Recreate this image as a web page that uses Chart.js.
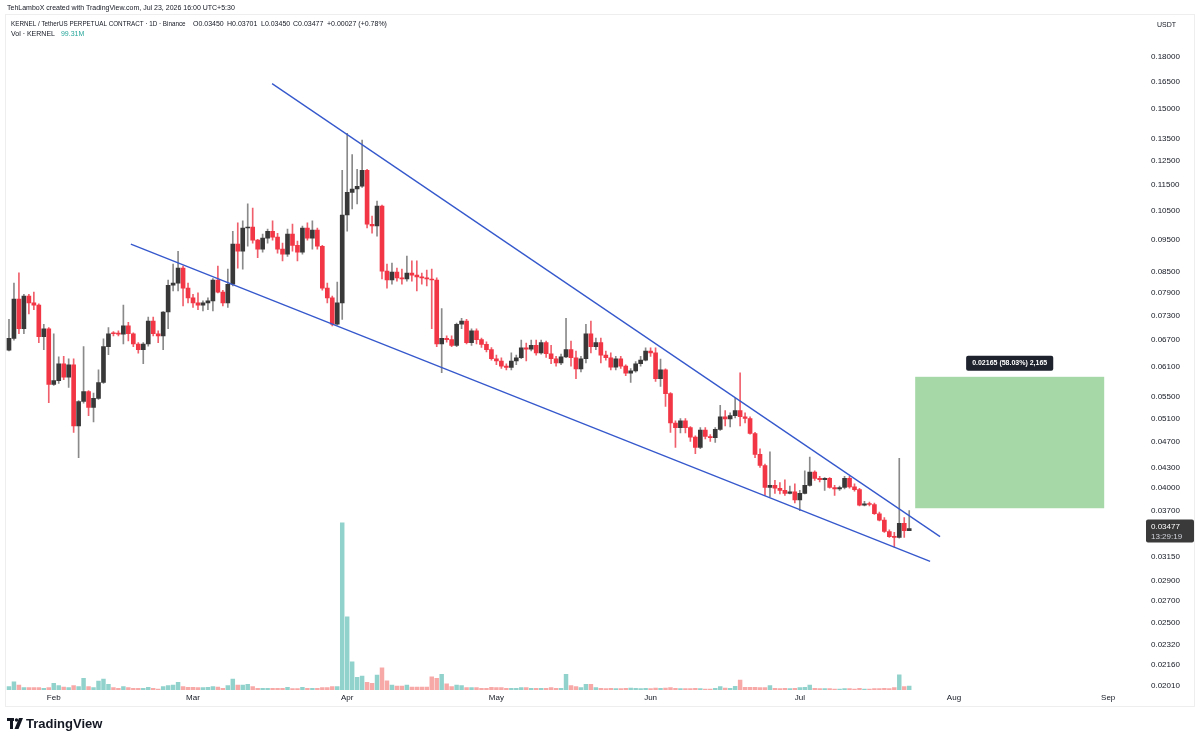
<!DOCTYPE html>
<html>
<head>
<meta charset="utf-8">
<script src="https://cdn.jsdelivr.net/npm/chart.js@4.4.1/dist/chart.umd.min.js"></script>
<style>
  html, body { margin: 0; padding: 0; background: #fff; }
  #wrap { width: 1200px; height: 742px; position: relative; }
</style>
</head>
<body>
<div id="wrap"><canvas id="myChart" width="1200" height="742"></canvas></div>
<script>
// daily candles, Jan 23 -> Jul 23 (index 0 = Jan 23)
const opens = [
  0.0647,0.0674,0.0773,0.0697,0.0781,0.0763,0.0757,0.0678,0.0697,0.0574,
  0.0582,0.0617,0.0589,0.0615,0.0497,0.0541,0.0560,0.0530,0.0547,0.0578,
  0.0655,0.0687,0.0686,0.0684,0.0704,0.0685,0.0661,0.0648,0.0661,0.0716,
  0.0685,0.0680,0.0739,0.0811,0.0817,0.0861,0.0803,0.0776,0.0763,0.0757,
  0.0763,0.0768,0.0826,0.0792,0.0763,0.0814,0.0936,0.0913,0.0990,0.0993,
  0.0949,0.0920,0.0956,0.0979,0.0959,0.0920,0.0904,0.0969,0.0932,0.0910,
  0.0990,0.0956,0.0983,0.0929,0.0803,0.0776,0.0708,0.0763,0.1036,0.1121,
  0.1134,0.1145,0.1210,0.1003,0.0997,0.1069,0.0852,0.0826,0.0849,0.0832,
  0.0829,0.0846,0.0840,0.0835,0.0832,0.0829,0.0826,0.0661,0.0674,0.0671,
  0.0658,0.0708,0.0716,0.0664,0.0692,0.0671,0.0660,0.0648,0.0628,0.0623,
  0.0612,0.0609,0.0623,0.0630,0.0652,0.0649,0.0658,0.0641,0.0664,0.0639,
  0.0628,0.0619,0.0632,0.0648,0.0630,0.0606,0.0628,0.0685,0.0655,0.0664,
  0.0636,0.0630,0.0610,0.0628,0.0612,0.0597,0.0602,0.0617,0.0625,0.0645,
  0.0641,0.0586,0.0604,0.0556,0.0502,0.0494,0.0506,0.0494,0.0478,0.0461,
  0.0490,0.0479,0.0477,0.0491,0.0513,0.0509,0.0515,0.0524,0.0513,0.0510,
  0.0484,0.0450,0.0433,0.0401,0.0404,0.0400,0.0397,0.0393,0.0395,0.0384,
  0.0393,0.0404,0.0423,0.0414,0.0412,0.0414,0.0401,0.0399,0.0401,0.0414,
  0.0402,0.0398,0.0377,0.0379,0.0378,0.0366,0.0358,0.0344,0.0338,0.0337,
  0.0354,0.03450
];
const highs = [
  0.0720,0.0817,0.0847,0.0786,0.0786,0.0792,0.0760,0.0708,0.0700,0.0685,
  0.0632,0.0633,0.0628,0.0628,0.0543,0.0655,0.0562,0.0557,0.0604,0.0673,
  0.0700,0.0690,0.0692,0.0757,0.0713,0.0687,0.0664,0.0664,0.0726,0.0726,
  0.0692,0.0740,0.0826,0.0873,0.0913,0.0867,0.0817,0.0786,0.0790,0.0768,
  0.0776,0.0830,0.0867,0.0797,0.0858,0.0979,0.1008,0.1015,0.1077,0.1061,
  0.0952,0.0969,0.0986,0.1015,0.0972,0.0939,0.0986,0.1004,0.0946,0.0997,
  0.1008,0.1015,0.0990,0.0932,0.0817,0.0781,0.0820,0.1210,0.1377,0.1279,
  0.1214,0.1345,0.1214,0.1032,0.1087,0.1072,0.0873,0.0876,0.0861,0.0858,
  0.0898,0.0883,0.0883,0.0846,0.0855,0.0858,0.0832,0.0748,0.0680,0.0680,
  0.0711,0.0723,0.0720,0.0697,0.0697,0.0675,0.0666,0.0653,0.0636,0.0630,
  0.0617,0.0641,0.0636,0.0670,0.0663,0.0670,0.0670,0.0670,0.0668,0.0658,
  0.0633,0.0638,0.0723,0.0668,0.0645,0.0633,0.0708,0.0716,0.0675,0.0675,
  0.0645,0.0641,0.0633,0.0633,0.0615,0.0607,0.0622,0.0633,0.0652,0.0652,
  0.0652,0.0627,0.0606,0.0558,0.0506,0.0510,0.0510,0.0496,0.0480,0.0494,
  0.0494,0.0482,0.0494,0.0534,0.0524,0.0520,0.0547,0.0598,0.0520,0.0513,
  0.0486,0.0459,0.0435,0.0454,0.0411,0.0408,0.0412,0.0403,0.0406,0.0397,
  0.0425,0.0446,0.0425,0.0417,0.0415,0.0415,0.0404,0.0403,0.0417,0.0417,
  0.0406,0.0400,0.0382,0.0381,0.0380,0.0368,0.0361,0.0346,0.0343,0.0444,
  0.0361,0.03701
];
const lows = [
  0.0645,0.0670,0.0685,0.0685,0.0734,0.0745,0.0664,0.0648,0.0539,0.0572,
  0.0576,0.0584,0.0568,0.0486,0.0445,0.0538,0.0515,0.0504,0.0545,0.0576,
  0.0637,0.0680,0.0680,0.0661,0.0668,0.0655,0.0640,0.0617,0.0656,0.0680,
  0.0664,0.0648,0.0697,0.0795,0.0795,0.0755,0.0763,0.0751,0.0745,0.0742,
  0.0745,0.0742,0.0790,0.0755,0.0751,0.0809,0.0861,0.0858,0.0929,0.0939,
  0.0893,0.0910,0.0939,0.0949,0.0907,0.0883,0.0897,0.0913,0.0883,0.0904,
  0.0949,0.0920,0.0920,0.0797,0.0763,0.0704,0.0706,0.0720,0.0979,0.1058,
  0.1077,0.1140,0.0990,0.0972,0.0962,0.0829,0.0803,0.0814,0.0823,0.0814,
  0.0823,0.0823,0.0795,0.0814,0.0809,0.0697,0.0655,0.0598,0.0665,0.0655,
  0.0655,0.0697,0.0661,0.0658,0.0661,0.0653,0.0643,0.0625,0.0615,0.0607,
  0.0604,0.0604,0.0615,0.0628,0.0623,0.0645,0.0636,0.0638,0.0631,0.0617,
  0.0612,0.0615,0.0630,0.0612,0.0586,0.0600,0.0619,0.0641,0.0648,0.0619,
  0.0625,0.0604,0.0604,0.0607,0.0592,0.0578,0.0599,0.0612,0.0623,0.0633,
  0.0580,0.0570,0.0532,0.0486,0.0461,0.0485,0.0485,0.0471,0.0451,0.0459,
  0.0475,0.0471,0.0469,0.0489,0.0497,0.0495,0.0511,0.0497,0.0502,0.0483,
  0.0445,0.0430,0.0390,0.0388,0.0393,0.0392,0.0390,0.0392,0.0380,0.0370,
  0.0392,0.0403,0.0411,0.0409,0.0397,0.0400,0.0390,0.0397,0.0399,0.0400,
  0.0396,0.0376,0.0376,0.0376,0.0365,0.0357,0.0343,0.0337,0.0326,0.0336,
  0.0337,0.03450
];
const closes = [
  0.0674,0.0773,0.0697,0.0781,0.0763,0.0757,0.0678,0.0697,0.0574,0.0582,
  0.0617,0.0589,0.0615,0.0497,0.0541,0.0560,0.0530,0.0547,0.0578,0.0655,
  0.0685,0.0685,0.0684,0.0704,0.0685,0.0661,0.0648,0.0661,0.0716,0.0685,
  0.0680,0.0739,0.0811,0.0817,0.0861,0.0803,0.0776,0.0763,0.0757,0.0763,
  0.0768,0.0826,0.0792,0.0763,0.0814,0.0936,0.0913,0.0990,0.0993,0.0949,
  0.0920,0.0956,0.0979,0.0959,0.0920,0.0904,0.0969,0.0932,0.0910,0.0990,
  0.0956,0.0983,0.0929,0.0803,0.0776,0.0708,0.0763,0.1036,0.1121,0.1134,
  0.1145,0.1210,0.1003,0.0997,0.1069,0.0852,0.0826,0.0849,0.0832,0.0829,
  0.0846,0.0840,0.0835,0.0832,0.0829,0.0826,0.0661,0.0674,0.0671,0.0658,
  0.0708,0.0716,0.0664,0.0692,0.0671,0.0660,0.0648,0.0628,0.0623,0.0612,
  0.0609,0.0623,0.0630,0.0652,0.0649,0.0658,0.0641,0.0664,0.0639,0.0628,
  0.0619,0.0632,0.0648,0.0630,0.0606,0.0628,0.0685,0.0655,0.0664,0.0636,
  0.0630,0.0610,0.0628,0.0612,0.0597,0.0602,0.0617,0.0625,0.0645,0.0641,
  0.0586,0.0604,0.0556,0.0502,0.0494,0.0506,0.0494,0.0478,0.0461,0.0490,
  0.0479,0.0477,0.0491,0.0513,0.0509,0.0515,0.0524,0.0513,0.0510,0.0484,
  0.0450,0.0433,0.0401,0.0404,0.0400,0.0397,0.0393,0.0395,0.0384,0.0393,
  0.0404,0.0423,0.0414,0.0412,0.0414,0.0401,0.0399,0.0401,0.0414,0.0402,
  0.0398,0.0377,0.0379,0.0378,0.0366,0.0358,0.0344,0.0338,0.0337,0.0354,
  0.0345,0.03477
];
// volume in millions
const volumes = [
  86,216,130,60,60,60,60,44,60,174,
  112,78,60,112,86,304,86,60,234,286,
  148,60,44,86,60,44,44,44,70,44,
  26,86,112,130,200,86,70,70,60,60,
  70,86,78,44,112,286,130,130,148,86,
  44,44,44,44,44,44,70,34,34,70,
  44,44,44,60,60,86,86,4360,1906,736,
  330,364,200,174,390,580,242,130,104,104,
  130,78,78,78,78,346,304,408,164,86,
  130,112,60,60,60,44,44,70,60,60,
  44,44,44,60,60,44,44,44,44,60,
  44,44,408,112,86,60,148,148,60,44,
  34,44,34,34,44,52,44,34,44,34,
  52,44,52,60,44,34,34,34,44,34,
  26,26,44,86,52,44,96,260,70,70,
  70,60,60,112,44,34,44,34,44,60,
  70,130,44,34,34,34,26,26,34,34,
  26,44,26,26,34,34,44,34,60,398,
  86,99.31
];

const monthLabels = ['Feb','Mar','Apr','May','Jun','Jul','Aug','Sep'];
const monthStarts = [9, 37, 68, 98, 129, 159, 190, 221];
const priceTicks = [0.18,0.165,0.15,0.135,0.125,0.115,0.105,0.095,0.085,0.079,0.073,0.067,
  0.061,0.055,0.051,0.047,0.043,0.040,0.037,0.0315,0.029,0.027,0.025,0.0232,0.0216,0.0201];

// drawn trendlines [bar index, price]
const upperLine = [[52.9, 0.1637], [187.2, 0.0338]];
const lowerLine = [[24.5, 0.0936], [185.2, 0.0310]];
// long position target zone
const targetFrom = 182.2, targetTo = 220.2;
const targetLow = 0.03731, targetHigh = 0.05896;

const UP = '#383838', DOWN = '#f23645';
const FONT = '"Liberation Sans", Arial, sans-serif';

const idx = closes.map((c, i) => i);
const isUp = idx.map(i => closes[i] >= opens[i]);
const last = closes.length - 1;

const overlay = {
  id: 'overlay',
  beforeDatasetsDraw(chart) {
    const {ctx, scales: {x, y}} = chart;
    const x0 = x.getPixelForValue(targetFrom), x1 = x.getPixelForValue(targetTo);
    const y0 = y.getPixelForValue(targetHigh), y1 = y.getPixelForValue(targetLow);
    ctx.save();
    ctx.fillStyle = 'rgba(76,175,80,0.5)';
    ctx.fillRect(x0, y0, x1 - x0, y1 - y0);
    // measure label
    const diff = targetHigh - targetLow;
    const txt = diff.toFixed(5) + ' (' + (diff / targetLow * 100).toFixed(2) + '%) ' +
      Math.round(diff * 1e5).toLocaleString('en-US');
    ctx.font = 'bold 7px ' + FONT;
    const w = ctx.measureText(txt).width + 12;
    const cx = (x0 + x1) / 2;
    ctx.fillStyle = '#1e222d';
    ctx.beginPath();
    ctx.roundRect(cx - w / 2, y0 - 21, w, 15, 2);
    ctx.fill();
    ctx.fillStyle = '#fff';
    ctx.textAlign = 'center';
    ctx.textBaseline = 'middle';
    ctx.fillText(txt, cx, y0 - 13.5);
    ctx.restore();
  },
  afterDraw(chart) {
    const {ctx, scales: {y}} = chart;
    ctx.save();
    ctx.textBaseline = 'middle';
    ctx.textAlign = 'left';
    // header
    ctx.fillStyle = '#131722';
    ctx.font = '7px ' + FONT;
    ctx.fillText('TehLamboX created with TradingView.com, Jul 23, 2026 16:00 UTC+5:30', 7, 8);
    const f = v => v.toFixed(5);
    const chg = closes[last] - closes[last - 1];
    ctx.font = '6.3px ' + FONT;
    ctx.fillText('KERNEL / TetherUS PERPETUAL CONTRACT \u00b7 1D \u00b7 Binance', 11, 24);
    ctx.font = '7px ' + FONT;
    ctx.fillText('O' + f(opens[last]), 193, 24);
    ctx.fillText('H' + f(highs[last]), 227, 24);
    ctx.fillText('L' + f(lows[last]), 261, 24);
    ctx.fillText('C' + f(closes[last]), 293, 24);
    ctx.fillText('+' + f(chg) + ' (+' + (chg / closes[last - 1] * 100).toFixed(2) + '%)', 327, 24);
    ctx.fillText('Vol \u00b7 KERNEL', 11, 34);
    const vw = ctx.measureText('Vol \u00b7 KERNEL').width;
    ctx.fillStyle = '#26a69a';
    ctx.fillText(volumes[last].toFixed(2) + 'M', 11 + vw + 6, 34);

    // price axis unit
    ctx.fillStyle = '#131722';
    ctx.fillText('USDT', 1157, 25);

    // last price label
    const py = y.getPixelForValue(closes[last]);
    ctx.fillStyle = '#3a3a3a';
    ctx.beginPath();
    ctx.roundRect(1146, py - 9, 48, 23, 2);
    ctx.fill();
    ctx.fillStyle = '#fff';
    ctx.font = '8px ' + FONT;
    ctx.fillText(f(closes[last]), 1151, py - 2);
    ctx.fillStyle = '#d1d4dc';
    ctx.fillText('13:29:19', 1151, py + 8);

    // frame
    ctx.strokeStyle = '#eeeeee';
    ctx.lineWidth = 1;
    ctx.strokeRect(5.5, 14.5, 1189, 692);

    // TradingView logo
    ctx.fillStyle = '#131722';
    ctx.fillRect(7, 718, 7, 3);
    ctx.fillRect(10, 718, 3, 11);
    ctx.beginPath();
    ctx.arc(16.5, 720, 1.7, 0, Math.PI * 2);
    ctx.fill();
    ctx.beginPath();
    ctx.moveTo(19, 718); ctx.lineTo(23, 718); ctx.lineTo(18.5, 729); ctx.lineTo(14.5, 729);
    ctx.closePath();
    ctx.fill();
    ctx.font = 'bold 13px ' + FONT;
    ctx.fillText('TradingView', 26, 724);
    ctx.restore();
  }
};

new Chart(document.getElementById('myChart'), {
  type: 'bar',
  data: {
    datasets: [
      {
        type: 'line', data: upperLine.map(p => ({x: p[0], y: p[1]})),
        borderColor: '#3558cc', borderWidth: 1.3, pointRadius: 0, yAxisID: 'y', order: 0
      },
      {
        type: 'line', data: lowerLine.map(p => ({x: p[0], y: p[1]})),
        borderColor: '#3558cc', borderWidth: 1.3, pointRadius: 0, yAxisID: 'y', order: 0
      },
      {
        data: idx.map(i => ({x: i, y: [opens[i], closes[i]]})),
        backgroundColor: isUp.map(u => u ? UP : DOWN),
        barThickness: 4, minBarLength: 1, grouped: false, yAxisID: 'y', order: 1
      },
      {
        data: idx.map(i => ({x: i, y: [lows[i], highs[i]]})),
        backgroundColor: isUp.map(u => u ? '#8a8a8a' : '#f0606c'),
        barThickness: 1, grouped: false, yAxisID: 'y', order: 2
      },
      {
        data: idx.map(i => ({x: i, y: volumes[i]})),
        backgroundColor: isUp.map(u => u ? 'rgba(38,166,154,0.5)' : 'rgba(239,83,80,0.5)'),
        barThickness: 3.8, grouped: false, yAxisID: 'vol', order: 3
      }
    ]
  },
  options: {
    responsive: false,
    animation: false,
    devicePixelRatio: 1,
    layout: { padding: { left: 5, top: 14, right: 0, bottom: 36 } },
    plugins: { legend: { display: false }, tooltip: { enabled: false } },
    scales: {
      x: {
        type: 'linear', min: -0.8, max: 227.4, offset: false,
        grid: { display: false, drawTicks: false, offset: false }, border: { display: false },
        afterBuildTicks: s => { s.ticks = monthStarts.map(v => ({value: v})); },
        afterFit: s => { s.height = 16; },
        ticks: {
          autoSkip: false, maxRotation: 0, padding: 3, color: '#131722',
          font: { family: FONT, size: 8 },
          callback: (v, i) => monthLabels[i]
        }
      },
      y: {
        type: 'logarithmic', position: 'right', min: 0.01981, max: 0.2073,
        grid: { display: false, drawTicks: false }, border: { display: false },
        afterBuildTicks: s => { s.ticks = priceTicks.map(v => ({value: v})); },
        afterFit: s => { s.width = 60; },
        ticks: {
          autoSkip: false, padding: 11, color: '#131722',
          font: { family: FONT, size: 8 },
          callback: v => Number(v).toFixed(5)
        }
      },
      vol: { type: 'linear', display: false, min: 0, max: 17576 }
    }
  },
  plugins: [overlay]
});
</script>
</body>
</html>
